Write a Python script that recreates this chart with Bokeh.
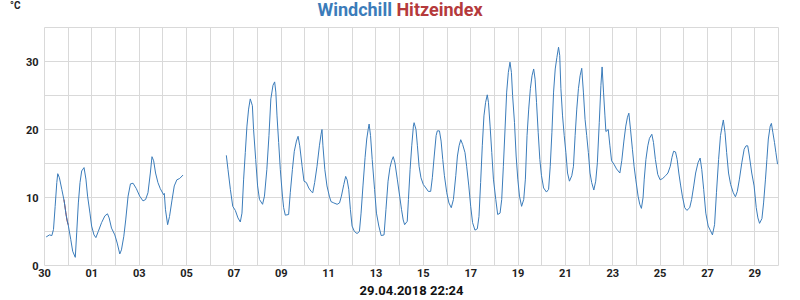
from bokeh.plotting import figure
from bokeh.models import Range1d, FixedTicker, Title, Div
from bokeh.layouts import column
from bokeh.embed import file_html
from bokeh.resources import INLINE

NAN = float("nan")

# days since start (29.04.2018 22:24) and Windchill values (°C)
days = [
    0.07, 0.21, 0.31, 0.38, 0.45, 0.52, 0.56, 0.63, 0.73, 0.83, 0.91, 1.01, 1.11, 1.19, 1.30,
    1.36, 1.43, 1.50, 1.57, 1.67, 1.75, 1.82, 1.92, 1.99, 2.09, 2.17, 2.27, 2.41, 2.55, 2.66,
    2.73, 2.83, 2.97, 3.07, 3.18, 3.25, 3.35, 3.43, 3.53, 3.63, 3.74, 3.88, 4.02, 4.16, 4.27,
    4.37, 4.47, 4.54, 4.61, 4.69, 4.79, 4.89, 5.03, 5.06, 5.11, 5.20, 5.28, 5.38, 5.48, 5.59,
    5.71, 5.85, 6.8,
    7.68, 7.75, 7.85, 7.95, 8.06, 8.17, 8.27, 8.34, 8.41, 8.48, 8.55, 8.62, 8.69, 8.78, 8.83,
    8.92, 9.00, 9.08, 9.21, 9.29, 9.39, 9.48, 9.56, 9.65, 9.72, 9.77, 9.82, 9.89, 9.96, 10.05,
    10.10, 10.17, 10.31, 10.38, 10.47, 10.55, 10.64, 10.71, 10.78, 10.88, 10.96, 11.06, 11.16,
    11.26, 11.33, 11.41, 11.51, 11.61, 11.68, 11.72, 11.76, 11.84, 11.93, 12.03, 12.10, 12.22,
    12.36, 12.46, 12.54, 12.64, 12.72, 12.78, 12.85, 12.92, 12.99, 13.09, 13.20, 13.30, 13.37,
    13.45, 13.54, 13.61, 13.67, 13.71, 13.77, 13.84, 13.94, 14.02, 14.12, 14.22, 14.34, 14.42,
    14.51, 14.59, 14.66, 14.73, 14.80, 14.90, 15.00, 15.08, 15.15, 15.21, 15.32, 15.37, 15.44,
    15.51, 15.58, 15.61, 15.69, 15.75, 15.82, 15.90, 16.00, 16.11, 16.21, 16.31, 16.38, 16.46,
    16.54, 16.59, 16.68, 16.75, 16.82, 16.89, 16.99, 17.08, 17.18, 17.27, 17.37, 17.44, 17.51,
    17.58, 17.66, 17.76, 17.83, 17.92, 18.00, 18.08, 18.18, 18.28, 18.35, 18.42, 18.49, 18.56,
    18.63, 18.70, 18.75, 18.82, 18.89, 18.96, 19.06, 19.14, 19.24, 19.31, 19.38, 19.45, 19.52,
    19.59, 19.66, 19.72, 19.77, 19.85, 19.92, 19.99, 20.06, 20.15, 20.24, 20.31, 20.38, 20.45,
    20.52, 20.59, 20.66, 20.72, 20.78, 20.85, 20.92, 20.99, 21.08, 21.20, 21.29, 21.36, 21.43,
    21.50, 21.57, 21.64, 21.71, 21.76, 21.81, 21.88, 21.95, 22.02, 22.09, 22.17, 22.27, 22.34,
    22.41, 22.48, 22.55, 22.62, 22.69, 22.76, 22.83, 22.90, 22.97, 23.04, 23.11, 23.20, 23.28,
    23.35, 23.43, 23.50, 23.55, 23.61, 23.67, 23.71, 23.81, 23.88, 23.95, 24.05, 24.16, 24.30,
    24.38, 24.47, 24.55, 24.62, 24.68, 24.75, 24.83, 24.90, 24.97, 25.07, 25.14, 25.21, 25.28,
    25.33, 25.40, 25.48, 25.55, 25.65, 25.72, 25.80, 25.90, 26.00, 26.11, 26.23, 26.33, 26.43,
    26.50, 26.57, 26.65, 26.72, 26.79, 26.87, 26.94, 27.04, 27.13, 27.25, 27.33, 27.42, 27.50,
    27.60, 27.69, 27.76, 27.84, 27.93, 28.03, 28.13, 28.21, 28.30, 28.38, 28.47, 28.55, 28.62,
    28.67, 28.74, 28.81, 28.89, 28.98, 29.09, 29.18, 29.26, 29.35, 29.45, 29.55, 29.63, 29.70,
    29.77, 29.87, 29.97, 30.06, 30.13, 30.20, 30.30, 30.37, 30.45, 30.51, 30.57, 30.65, 30.70,
    30.76, 30.83, 30.89, 30.96,
]
windchill = [
    4.2, 4.5, 4.4, 5.3, 8.7, 12.2, 13.5, 12.9, 11.2, 9.5, 7.5, 5.8, 3.8, 2.1, 1.2,
    4.8, 9.2, 12.2, 13.9, 14.4, 12.7, 10.2, 7.7, 5.8, 4.5, 4.1, 5.0, 6.3, 7.3, 7.6,
    7.0, 5.5, 4.5, 3.3, 1.7, 2.3, 4.3, 6.7, 10.2, 12.0, 12.1, 11.3, 10.2, 9.5, 9.7,
    10.7, 13.6, 16.0, 15.4, 13.6, 12.2, 11.3, 10.4, 10.6, 8.2, 6.0, 7.2, 9.5, 11.7, 12.6,
    12.8, 13.3, NAN,
    16.2, 14.1, 11.2, 8.7, 8.1, 7.0, 6.4, 7.7, 12.7, 16.6, 20.5, 23.0, 24.5, 23.5, 20.0,
    15.6, 11.7, 9.7, 9.0, 10.2, 14.1, 19.1, 24.5, 26.5, 27.0, 25.5, 22.0, 18.1, 14.1, 10.2,
    8.5, 7.4, 7.5, 10.7, 14.1, 16.8, 18.3, 19.0, 17.6, 14.6, 12.4, 12.2, 11.4,
    10.9, 10.7, 12.2, 14.6, 17.6, 19.3, 20.0, 17.6, 14.1, 11.7, 10.2, 9.4, 9.2,
    9.0, 9.2, 10.2, 11.9, 13.1, 12.6, 11.2, 8.2, 5.8, 5.0, 4.7, 5.0, 7.7,
    11.7, 15.9, 18.6, 20.0, 20.8, 19.1, 15.6, 11.2, 7.7, 5.8, 4.4, 4.5, 8.2,
    12.4, 14.4, 15.4, 16.0, 15.1, 12.7, 10.2, 8.2, 6.7, 6.0, 6.5, 9.7, 14.1,
    17.6, 20.5, 21.0, 20.0, 17.6, 14.6, 12.9, 11.9, 11.4, 10.9, 10.9, 12.9, 16.1,
    19.1, 19.8, 19.8, 18.3, 15.6, 13.2, 10.7, 9.2, 8.5, 9.7, 13.2, 16.1, 17.6,
    18.5, 17.8, 16.6, 14.6, 11.7, 8.7, 6.3, 5.2, 5.4, 7.2, 12.2, 17.6, 22.0,
    24.0, 25.1, 24.0, 20.5, 16.6, 12.7, 9.7, 7.5, 7.7, 9.7, 14.6, 20.0, 25.5,
    28.4, 29.9, 28.4, 25.0, 21.0, 16.1, 12.7, 10.2, 8.7, 9.7, 12.7, 19.1, 23.0,
    26.0, 27.9, 28.9, 27.4, 24.0, 19.6, 15.6, 13.2, 11.4, 10.8, 11.2, 14.6, 19.6,
    25.5, 28.9, 30.6, 32.1, 30.9, 26.0, 22.0, 19.1, 16.6, 13.6, 12.4, 13.2, 14.6,
    19.1, 23.0, 26.0, 27.9, 29.0, 25.5, 21.5, 19.1, 16.6, 13.6, 12.2, 11.1, 12.4,
    15.1, 21.0, 26.5, 29.2, 25.5, 22.0, 19.7, 20.0, 17.6, 15.4, 14.9, 14.2, 13.6,
    15.4, 18.3, 20.5, 21.8, 22.4, 20.0, 17.1, 14.6, 12.7, 10.2, 9.0, 8.4, 10.0,
    12.7, 15.6, 17.6, 18.7, 19.3, 18.1, 15.6, 13.4, 12.6, 12.8, 13.2, 13.6, 14.6,
    15.9, 16.8, 16.7, 15.6, 13.6, 11.7, 10.2, 8.5, 8.1, 8.5, 9.7, 11.7, 13.6,
    15.1, 15.8, 14.1, 11.2, 7.7, 5.8, 5.1, 4.5, 6.0, 10.7, 15.6, 19.1, 20.5,
    21.4, 19.6, 16.6, 13.6, 11.9, 10.7, 10.1, 10.9, 12.7, 15.1, 17.1, 17.6, 17.6,
    16.1, 13.6, 11.7, 8.5, 7.0, 6.2, 6.9, 9.2, 12.7, 15.6, 18.6, 20.5, 20.9,
    19.6, 18.1, 16.6, 14.9,
]

# Hitzeindex: only a short visible stretch
hitze_days = [0.82, 0.86, 0.90, 0.95, 1.00]
hitze = [9.7, 8.8, 7.8, 6.6, 6.0]

x_tick_pos = list(range(0, 31, 2))
x_tick_labels = ["30", "01", "03", "05", "07", "09", "11", "13", "15", "17",
                 "19", "21", "23", "25", "27", "29"]
y_ticks = [0, 10, 20, 30]

BLUE = "#3b7cba"
RED = "#b53a3c"
GRID = "#d9d9d9"
FONT = "Roboto"

header = Div(
    text=('<div style="position:relative;width:800px;height:24px;">'
          '<span style="position:absolute;left:10px;top:0px;font:bold 10px Roboto;color:#222;">°C</span>'
          '<div style="text-align:center;font:bold 18px Roboto;line-height:20px;padding-top:0px;">'
          f'<span style="color:{BLUE}">Windchill</span> '
          f'<span style="color:{RED}">Hitzeindex</span></div></div>'),
    width=800, height=24, margin=(0, 0, 0, 0))

p = figure(width=800, height=276, output_backend="svg", toolbar_location=None,
           x_range=Range1d(0, 31), y_range=Range1d(0, 35),
           min_border_left=44, min_border_right=22, min_border_top=3, min_border_bottom=35,
           margin=(0, 0, 0, 0))
p.background_fill_color = "white"
p.border_fill_color = "white"
p.outline_line_color = GRID
p.outline_line_width = 1

p.line(hitze_days, hitze, line_color=RED, line_width=1)
p.line(days, windchill, line_color=BLUE, line_width=1)

p.xaxis.ticker = FixedTicker(ticks=x_tick_pos)
p.xaxis.major_label_overrides = {t: l for t, l in zip(x_tick_pos, x_tick_labels)}
p.yaxis.ticker = FixedTicker(ticks=y_ticks)
for ax in (p.xaxis, p.yaxis):
    ax.axis_line_color = None
    ax.major_tick_line_color = None
    ax.minor_tick_line_color = None
    ax.major_tick_out = 0
    ax.major_tick_in = 0
    ax.major_label_text_font = FONT
    ax.major_label_text_font_style = "bold"
    ax.major_label_text_font_size = "11px"
    ax.major_label_text_color = "#222222"
p.xaxis.major_label_standoff = 3
p.yaxis.major_label_standoff = 6

p.xgrid.ticker = FixedTicker(ticks=list(range(0, 32)))
p.ygrid.ticker = FixedTicker(ticks=list(range(0, 36, 5)))
p.xgrid.grid_line_color = GRID
p.ygrid.grid_line_color = GRID

p.add_layout(Title(text="29.04.2018 22:24", align="center", text_font=FONT,
                   text_font_style="bold", text_font_size="13px", text_color="#111111",
                   standoff=2), "below")

layout = column(header, p, spacing=0, margin=(0, 0, 0, 0))
open("out.html", "w").write(file_html(layout, INLINE))
